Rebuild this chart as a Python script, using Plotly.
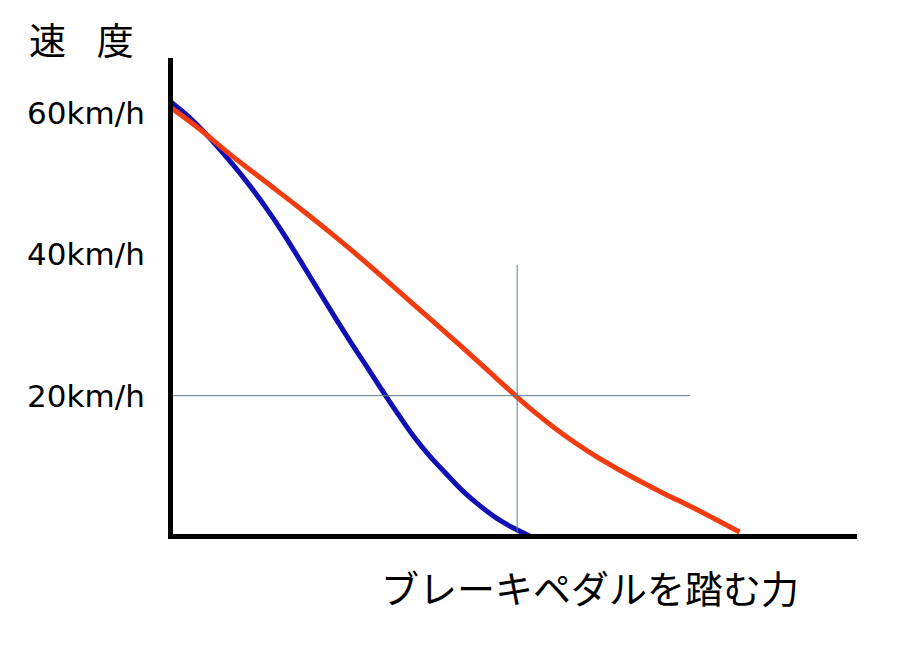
import plotly.graph_objects as go

# Data (force in arbitrary units 0-100, speed in km/h)
red_x = [0, 4.0, 9.0, 13.8, 18.6, 23.5, 26.1, 31.0, 35.9, 40.7, 45.5, 50.5, 53.0, 56.0, 59.0, 62.0, 65.0, 68.0, 72.0, 76.0, 80.0, 82.9]
red_y = [60.8, 57.9, 53.9, 50.3, 46.7, 42.9, 40.8, 36.7, 32.5, 28.4, 24.2, 19.8, 17.7, 15.4, 13.3, 11.4, 9.7, 8.1, 6.1, 4.2, 2.2, 0.7]

blue_x = [0, 2.5, 5.0, 9.0, 11.4, 13.9, 16.4, 18.9, 21.3, 23.7, 26.1, 28.6, 31.0, 33.0, 35.3, 37.8, 40.3, 42.6, 45.1, 47.6, 49.9, 52.4]
blue_y = [61.6, 59.6, 57.2, 52.8, 49.9, 46.6, 43.0, 39.1, 35.3, 31.5, 27.8, 24.1, 20.5, 17.6, 14.4, 11.4, 8.8, 6.5, 4.4, 2.6, 1.3, 0.1]

tick_vals = [20, 40, 60]
tick_text = ["20km/h", "40km/h", "60km/h"]

guide_x = [0, 50.5, 75.7]
guide_y = [20, 38.5]

y_title = "速\u2002\u2004度"
x_title = "ブレーキペダルを踏む力"

fig = go.Figure()
fig.add_trace(go.Scatter(x=blue_x, y=blue_y, mode="lines",
                         line=dict(color="#1010b4", width=5, shape="spline", smoothing=1.0)))
fig.add_trace(go.Scatter(x=red_x, y=red_y, mode="lines",
                         line=dict(color="#f23c10", width=5, shape="spline", smoothing=1.0)))

# guide lines
fig.add_trace(go.Scatter(x=[guide_x[0], guide_x[2]], y=[guide_y[0], guide_y[0]], mode="lines",
                         line=dict(color="#52808f", width=1)))
fig.add_trace(go.Scatter(x=[guide_x[1], guide_x[1]], y=[0, guide_y[1]], mode="lines",
                         line=dict(color="#52808f", width=1)))

fig.update_layout(
    width=900, height=646,
    margin=dict(l=165, r=51, t=50, b=120),
    paper_bgcolor="white", plot_bgcolor="white",
    showlegend=False,
    xaxis=dict(range=[0.364, 100], showline=True, linecolor="black", linewidth=5,
               showgrid=False, zeroline=False, showticklabels=False, ticks=""),
    yaxis=dict(range=[0.425, 67.78], showline=True, linecolor="black", linewidth=5,
               showgrid=False, zeroline=False, tickvals=tick_vals, ticktext=tick_text,
               ticks="", ticklabelstandoff=17,
               tickfont=dict(family="DejaVu Sans", size=31, color="black")),
    annotations=[
        dict(text=y_title, xref="paper", yref="paper", x=-0.214, y=1.0, xanchor="left", yanchor="bottom",
             yshift=-10, showarrow=False, font=dict(family="Noto Sans CJK JP", size=37, color="black")),
        dict(text=x_title, xref="paper", yref="paper", x=(590 - 173) / 684, y=0, xanchor="center", yanchor="middle",
             yshift=-52, showarrow=False, font=dict(family="Noto Sans CJK JP", size=38, color="black")),
    ],
)

fig.write_html("out.html")
